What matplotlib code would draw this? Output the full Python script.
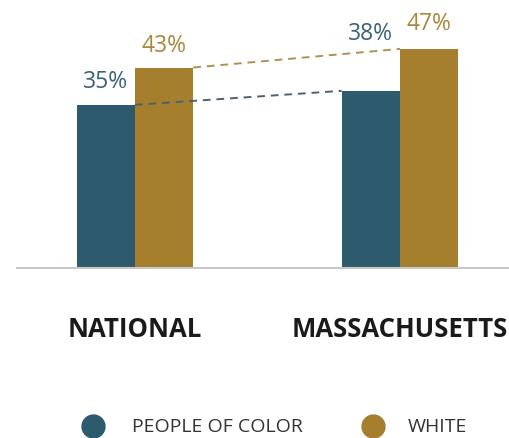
import matplotlib
matplotlib.use('Agg')
import matplotlib.pyplot as plt
from matplotlib.lines import Line2D

plt.rcParams['font.family'] = ['Open Sans', 'DejaVu Sans']

# data
categories = ['NATIONAL', 'MASSACHUSETTS']
poc = [35, 38]
white = [43, 47]
series_names = ['PEOPLE OF COLOR', 'WHITE']

blue = '#2e5a6e'
gold = '#a67f2e'
blue_txt = '#3b6177'
gold_txt = '#a9863a'

W, H = 510, 439
fig = plt.figure(figsize=(W / 100, H / 100), dpi=100)
ax = fig.add_axes([17 / W, 170 / H, 493 / W, 269 / H])

w = 0.22
x = list(range(len(categories)))
xb = [i - w / 2 for i in x]
xw = [i + w / 2 for i in x]
ax.bar(xb, poc, width=w, color=blue, zorder=2)
ax.bar(xw, white, width=w, color=gold, zorder=2)

# dashed connectors from the right edge of national bars to the left edge of MA bars
ax.plot([xb[0] + w / 2, xb[1] - w / 2], poc, ls=(0, (4, 3)), color='#4a6272', lw=1.4, zorder=3)
ax.plot([xw[0] + w / 2, xw[1] - w / 2], white, ls=(0, (4, 3)), color='#b09050', lw=1.4, zorder=3)

# label offsets above bar tops (the MA people-of-color label sits higher)
poc_off = [3.8, 11.1]
white_off = [3.6, 4.3]
for i in x:
    ax.text(xb[i], poc[i] + poc_off[i], f'{poc[i]}%', ha='center', va='baseline',
            color=blue_txt, fontsize=16.5)
    ax.text(xw[i], white[i] + white_off[i], f'{white[i]}%', ha='center', va='baseline',
            color=gold_txt, fontsize=16.5)

ax.set_xlim(-0.445, 1.415)
ax.set_ylim(0, 57.7)
for s in ['top', 'right', 'left']:
    ax.spines[s].set_visible(False)
ax.spines['bottom'].set_color('#c8c8c8')
ax.spines['bottom'].set_linewidth(1.5)
ax.set_yticks([])
ax.set_xticks(x)
ax.set_xticklabels(categories, fontsize=18.5, fontweight='bold', color='#1a1a1a')
ax.tick_params(axis='x', length=0, pad=34)

# legend drawn by hand
leg_y = 1 - 427 / H
for cx, tx, name, col in [(93, 132, series_names[0], blue), (373, 408, series_names[1], gold)]:
    fig.add_artist(Line2D([cx / W], [leg_y], marker='o', ls='', markersize=16.5,
                          color=col, transform=fig.transFigure))
    fig.text(tx / W, leg_y, name, ha='left', va='center', fontsize=14, color='#333333')

plt.savefig('out.png', dpi=100)
